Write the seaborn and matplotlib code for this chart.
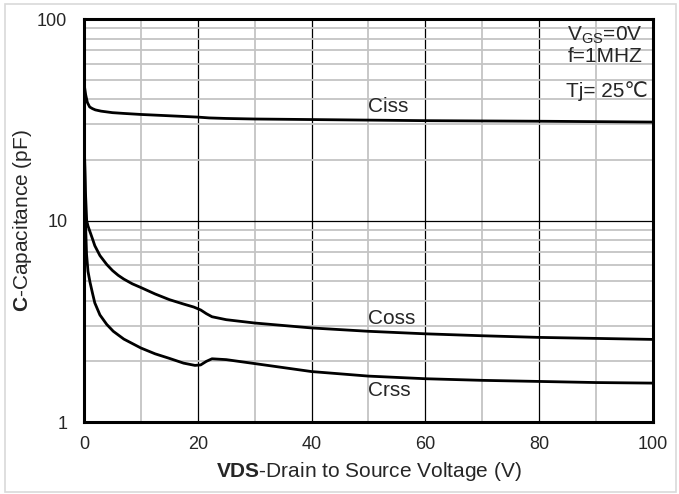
import numpy as np
import pandas as pd
import matplotlib
matplotlib.use("Agg")
import matplotlib.pyplot as plt
from matplotlib.patches import Rectangle
from matplotlib.ticker import FixedLocator, NullFormatter, LogLocator
import seaborn as sns

# values (VDS in V, capacitance in pF)
ciss_v = [0, 0.3, 0.6, 1, 1.5, 2, 3, 5, 7, 10, 15, 20, 22, 25, 30, 40, 50, 60,
          80, 100]
ciss_c = [48, 42, 38.5, 36.6, 35.9, 35.4, 34.9, 34.3, 34.0, 33.6, 33.1, 32.6,
          32.3, 32.1, 31.9, 31.7, 31.5, 31.3, 31.1, 30.8]

coss_v = [0.1, 0.25, 0.47, 0.7, 1.05, 1.5, 1.9, 2.8, 4, 5, 6, 7, 8.5, 10, 12.5,
          15, 17.5, 19.3, 20.5, 21.5, 22.5, 25, 30, 40, 50, 60, 70, 80, 90, 100]
coss_c = [21, 14, 10, 9.4, 8.8, 8.1, 7.5, 6.7, 6.05, 5.65, 5.35, 5.12, 4.85,
          4.65, 4.32, 4.05, 3.85, 3.72, 3.6, 3.45, 3.33, 3.22, 3.1, 2.93, 2.82,
          2.74, 2.68, 2.63, 2.6, 2.57]

crss_v = [0.1, 0.25, 0.45, 0.7, 1.05, 1.5, 1.9, 2.8, 4, 5.15, 7, 10, 12.5, 15,
          17.5, 19.5, 20.5, 21.5, 22.5, 25, 30, 40, 50, 60, 70, 80, 90, 100]
crss_c = [21, 10, 6.8, 5.6, 4.95, 4.35, 3.9, 3.4, 3.05, 2.82, 2.58, 2.33, 2.18,
          2.07, 1.96, 1.91, 1.92, 2.0, 2.06, 2.04, 1.95, 1.78, 1.69, 1.64, 1.61,
          1.59, 1.57, 1.56]

curve_labels = ["Ciss", "Coss", "Crss"]
label_pos = [(50, 37), (50, 3.25), (50, 1.43)]

x_ticks = [0, 20, 40, 60, 80, 100]
y_ticks = [1, 10, 100]

sns.set_style("white")
plt.rcParams["font.family"] = ["Liberation Sans", "DejaVu Sans"]
plt.rcParams["mathtext.fontset"] = "custom"
plt.rcParams["mathtext.rm"] = "Liberation Sans"
plt.rcParams["mathtext.bf"] = "Liberation Sans:bold"

fig = plt.figure(figsize=(6.79, 4.94), dpi=100)
ax = fig.add_axes([0.1237, 0.1457, 0.838, 0.8158])

fig.patches.append(Rectangle((0.007, 0.004), 0.988, 0.988, transform=fig.transFigure,
                             fill=False, edgecolor="#d9d9d9", linewidth=1.2))

for v, c in [(ciss_v, ciss_c), (coss_v, coss_c), (crss_v, crss_c)]:
    df = pd.DataFrame({"VDS": v, "C": c})
    sns.lineplot(data=df, x="VDS", y="C", ax=ax, color="black", linewidth=2,
                 estimator=None, sort=False, zorder=5)

ax.set_yscale("log")
ax.set_xlim(0, 100)
ax.set_ylim(1, 100)

ax.xaxis.set_major_locator(FixedLocator(x_ticks))
ax.xaxis.set_minor_locator(FixedLocator([10, 30, 50, 70, 90]))
ax.set_xticklabels([str(t) for t in x_ticks])
ax.yaxis.set_major_locator(FixedLocator(y_ticks))
ax.yaxis.set_minor_locator(LogLocator(base=10, subs=np.arange(2, 10)))
ax.yaxis.set_minor_formatter(NullFormatter())
ax.set_yticklabels([str(t) for t in y_ticks])

ax.grid(which="minor", color="#c4c4c4", linewidth=1.3)
ax.grid(which="major", color="black", linewidth=0.9)
ax.set_axisbelow(True)
ax.tick_params(which="both", length=0, labelsize=13)
ax.tick_params(axis="y", pad=12)
ax.tick_params(axis="x", pad=10)

for s in ax.spines.values():
    s.set_visible(True)
    s.set_color("black")
    s.set_linewidth(2.2)

ax.set_xlabel(r"$\mathbf{VDS}$-Drain to Source Voltage (V)", fontsize=15, labelpad=5)
ax.set_ylabel(r"$\mathbf{C}$-Capacitance (pF)", fontsize=15, labelpad=2)

for name, (px, py) in zip(curve_labels, label_pos):
    ax.text(px, py, name, fontsize=15, ha="left", va="center", zorder=6)

ax.text(0.981, 0.960, r"V$_{\mathrm{GS}}$=0V", transform=ax.transAxes,
        fontsize=15, ha="right", va="center", zorder=6)
ax.text(0.981, 0.907, "f=1MHZ", transform=ax.transAxes,
        fontsize=15, ha="right", va="center", zorder=6)
ax.text(0.991, 0.821, "Tj= 25\u2103", transform=ax.transAxes,
        fontsize=15, ha="right", va="center", zorder=6)

fig.savefig("out.png", dpi=100)
